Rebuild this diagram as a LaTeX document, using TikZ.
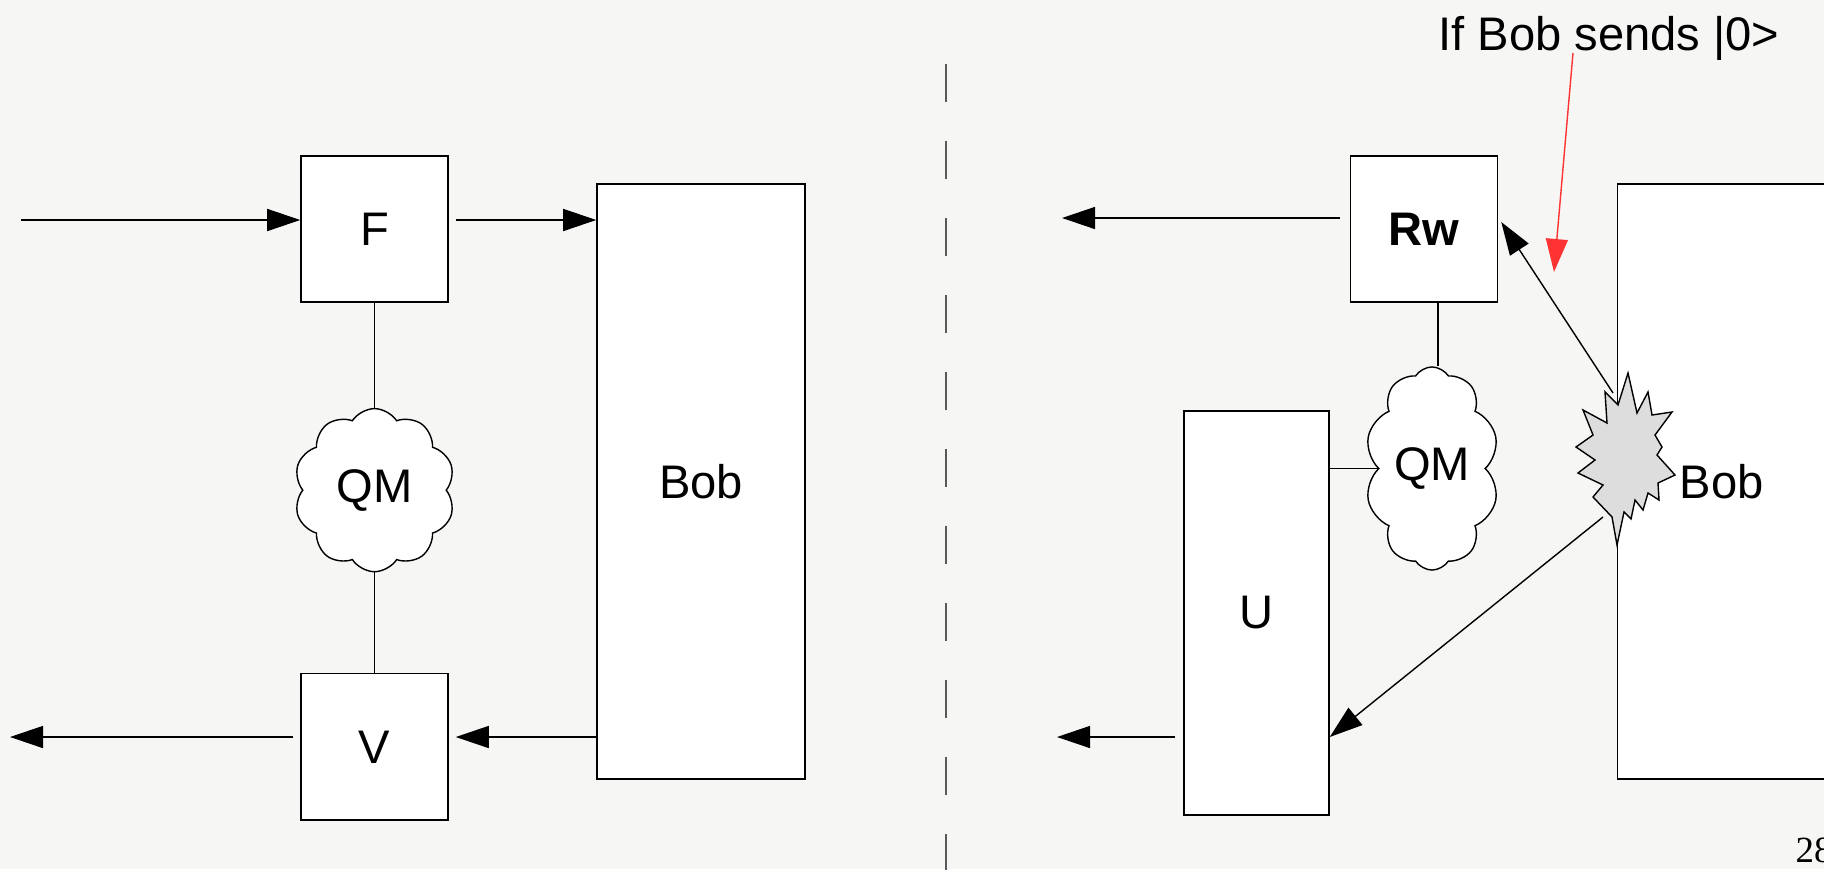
\documentclass[tikz,border=0pt]{standalone}
\usepackage{fontspec}
\setmainfont{Liberation Sans}
\newfontfamily\pagefont{Liberation Serif}
\usetikzlibrary{arrows.meta, shapes.symbols}

\definecolor{paper}{RGB}{246,246,244}
\definecolor{burstgray}{RGB}{221,221,221}
\definecolor{hintred}{RGB}{255,51,51}

\begin{document}
\begin{tikzpicture}[x=0.01cm, y=-0.01cm, line width=0.4pt, >={Triangle[length=3.3mm, width=2.2mm]}, font=\fontsize{13.4}{16}\selectfont, block/.style={rectangle, draw, fill=white, minimum width=14.7mm, minimum height=14.6mm, inner sep=0pt}, bigblock/.style={block, minimum width=20.8mm, minimum height=59.5mm}, qm/.style={cloud, draw, fill=white, cloud puffs=10, cloud puff arc=115, cloud ignores aspect, inner sep=0pt}]

  \fill[paper] (0,0) rectangle (1824,869);
  \useasboundingbox (0,0) rectangle (1824,869);

  % left: F and V around the QM cloud, Bob on the side
  \node[block] (F) at (374.5,229) {F};
  \node[block, below of=F, node distance=51.75mm] (V) {V};
  \node[bigblock] (bobL) at (701,481.5) {Bob};
  \node[qm, minimum width=16.1mm, minimum height=16.3mm, below of=F, node distance=26.1mm] (qmL) {QM};
  \coordinate (inL) at (21,220);
  \coordinate (outL) at (10,737);

  \draw[->] (inL) -- (inL -| F.west);
  \draw[->] ([xshift=0.7mm]F.east |- inL) -- (inL -| bobL.west);
  \draw (F) -- (qmL) -- (V);
  \draw[->] (outL -| bobL.west) -- ([xshift=0.7mm]V.east |- outL);
  \draw[->] ([xshift=-0.7mm]V.west |- outL) -- (outL);

  % divider
  \draw[gray!70!black, dash pattern=on 3.8mm off 3.9mm] (946,64) -- (946,880);

  % right: Rw, U and the cloud, Bob hit by the burst
  \node[block, font=\fontsize{13.4}{16}\selectfont\bfseries] (Rw) at (1424,229) {Rw};
  \node[bigblock, right of=bobL, node distance=102mm] (bobR) {Bob};
  \node[block, minimum width=14.5mm, minimum height=40.4mm] (U) at (1256.5,613) {U};
  \node[qm, minimum width=13.4mm, minimum height=20.3mm] (qmR) at (1432,468.5) {QM};
  \coordinate (outR) at (1062,218);
  \coordinate (outU) at (1057,737);
  \coordinate (burstN) at (1613,393);
  \coordinate (burstS) at (1603,517);

  \draw[->] ([xshift=-1mm]Rw.west |- outR) -- (outR);
  \draw ([xshift=1.4mm]Rw.south) -- ([xshift=1.4mm]Rw.south |- qmR.north);
  \draw (qmR.west -| U.east) -- (qmR.west);
  \draw[->] ([xshift=-0.8mm]U.west |- outU) -- (outU);
  \draw[->] (burstN) -- ([xshift=0.3mm, yshift=0.7mm]Rw.east);
  \draw[->] (burstS) -- (U.east |- outU);

  % burst
  \filldraw[fill=burstgray] (1628,373) -- (1637,413) -- (1648,392) -- (1652,415) -- (1672,412)
    -- (1655,435) -- (1662,447) -- (1657,455) -- (1675,475) -- (1658,483) -- (1659,500)
    -- (1648,493) -- (1643,510) -- (1635,500) -- (1631,519) -- (1624,512) -- (1617,545)
    -- (1612,517) -- (1593,497) -- (1603,485) -- (1578,473) -- (1595,460) -- (1576,447)
    -- (1593,435) -- (1583,410) -- (1607,423) -- (1605,392) -- (1618,405) -- cycle;

  % note
  \node[anchor=base, inner sep=0pt] (note) at (1609,50) {If Bob sends |0>};
  \coordinate (hint) at (1554,272);
  \draw[->, hintred] ([xshift=-3.6mm, yshift=-0.3mm]note.base) -- (hint);

  \node[anchor=base west, inner sep=0pt, font=\pagefont\fontsize{10.5}{12}\selectfont] (pageno) at (1795,862) {28};

\end{tikzpicture}
\end{document}
